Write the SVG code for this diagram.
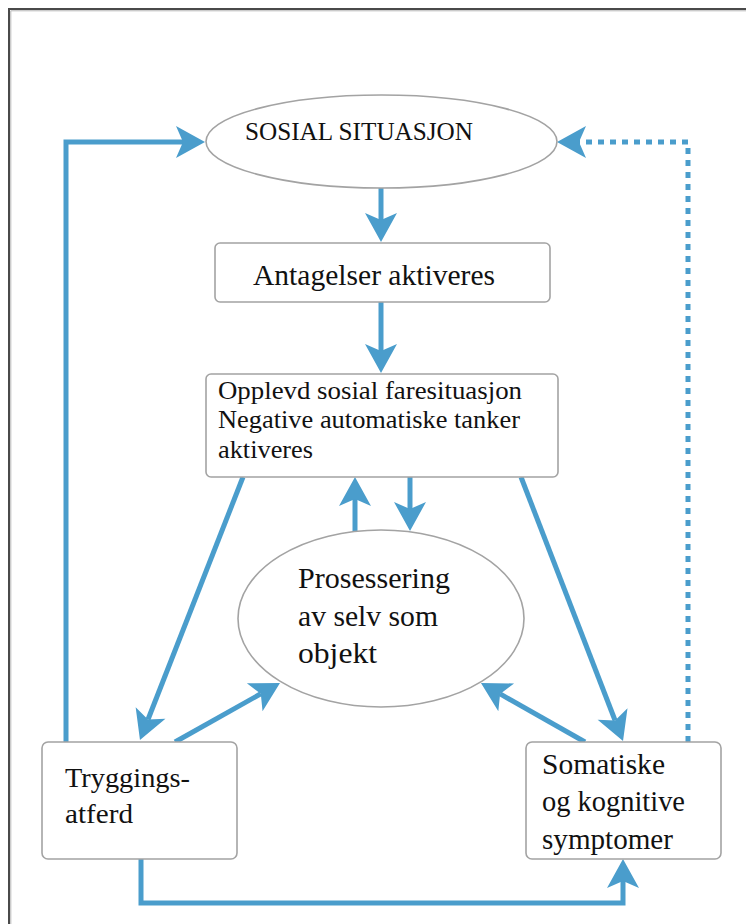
<svg xmlns="http://www.w3.org/2000/svg" width="746" height="924" viewBox="0 0 746 924">
<defs>
<style>
.node{fill:#ffffff;stroke:#a3a3a3;stroke-width:1.6}
.t{font-family:"Liberation Serif","Times New Roman",serif;fill:#111111}
.c{fill:none;stroke:#4a9dcc;stroke-width:5}
.dot{stroke-dasharray:6 6}
</style>
<marker id="ah" markerUnits="userSpaceOnUse" orient="auto" overflow="visible" markerWidth="10" markerHeight="10" refX="0" refY="0">
<path d="M22,0 L-7,-16 L0,0 L-7,16 Z" fill="#4a9dcc"/>
</marker>
</defs>
<rect x="0" y="0" width="746" height="924" fill="#ffffff"/>
<path d="M9,924 V9 H746" fill="none" stroke="#4a4a4a" stroke-width="2"/>
<path d="M10.8,924 V10.8 H746" fill="none" stroke="#b5b5b5" stroke-width="1"/>

<g id="connectors">
<path class="c" d="M381,188 V220" marker-end="url(#ah)"/>
<path class="c" d="M381,302 V351" marker-end="url(#ah)"/>
<path class="c" d="M66,742 V142 H183" marker-end="url(#ah)"/>
<path class="c dot" d="M688,742 V142 H579" marker-end="url(#ah)"/>
<path class="c" d="M141,859 V903 H623 V881" marker-end="url(#ah)"/>
<path class="c" d="M355,531 V499" marker-end="url(#ah)"/>
<path class="c" d="M410,477 V509" marker-end="url(#ah)"/>
<path class="c" d="M243,477 L148,719.5" marker-end="url(#ah)"/>
<path class="c" d="M175,742 L260.8,693.8" marker-end="url(#ah)"/>
<path class="c" d="M521,477 L615.1,720.5" marker-end="url(#ah)"/>
<path class="c" d="M585,742 L500.1,693.9" marker-end="url(#ah)"/>
</g>

<g id="sosial-situasjon">
<ellipse class="node" cx="381.5" cy="141.5" rx="175.5" ry="46.5"/>
<text class="t" x="245" y="140" font-size="25" textLength="228" lengthAdjust="spacingAndGlyphs">SOSIAL SITUASJON</text>
</g>

<g id="antagelser">
<rect class="node" x="215" y="243" width="335" height="59" rx="5"/>
<text class="t" x="253" y="285" font-size="29" textLength="242" lengthAdjust="spacingAndGlyphs">Antagelser aktiveres</text>
</g>

<g id="opplevd">
<rect class="node" x="206" y="374" width="352" height="103" rx="5"/>
<text class="t" x="218" y="399" font-size="26" textLength="304" lengthAdjust="spacingAndGlyphs">Opplevd sosial faresituasjon</text>
<text class="t" x="218" y="428" font-size="26" textLength="302" lengthAdjust="spacingAndGlyphs">Negative automatiske tanker</text>
<text class="t" x="218" y="458" font-size="26" textLength="95" lengthAdjust="spacingAndGlyphs">aktiveres</text>
</g>

<g id="prosessering">
<ellipse class="node" cx="381" cy="618.5" rx="143" ry="88.5"/>
<text class="t" x="298" y="588" font-size="30" textLength="152" lengthAdjust="spacingAndGlyphs">Prosessering</text>
<text class="t" x="298" y="626" font-size="30" textLength="140" lengthAdjust="spacingAndGlyphs">av selv som</text>
<text class="t" x="298" y="663" font-size="30" textLength="79" lengthAdjust="spacingAndGlyphs">objekt</text>
</g>

<g id="tryggingsatferd">
<rect class="node" x="42" y="742" width="195" height="117" rx="6"/>
<text class="t" x="65" y="787" font-size="28" textLength="125" lengthAdjust="spacingAndGlyphs">Tryggings-</text>
<text class="t" x="65" y="823" font-size="28" textLength="68" lengthAdjust="spacingAndGlyphs">atferd</text>
</g>

<g id="symptomer">
<rect class="node" x="526" y="742" width="195" height="117" rx="6"/>
<text class="t" x="542" y="774" font-size="29" textLength="123" lengthAdjust="spacingAndGlyphs">Somatiske</text>
<text class="t" x="542" y="811" font-size="29" textLength="143" lengthAdjust="spacingAndGlyphs">og kognitive</text>
<text class="t" x="542" y="849" font-size="29" textLength="131" lengthAdjust="spacingAndGlyphs">symptomer</text>
</g>
</svg>
